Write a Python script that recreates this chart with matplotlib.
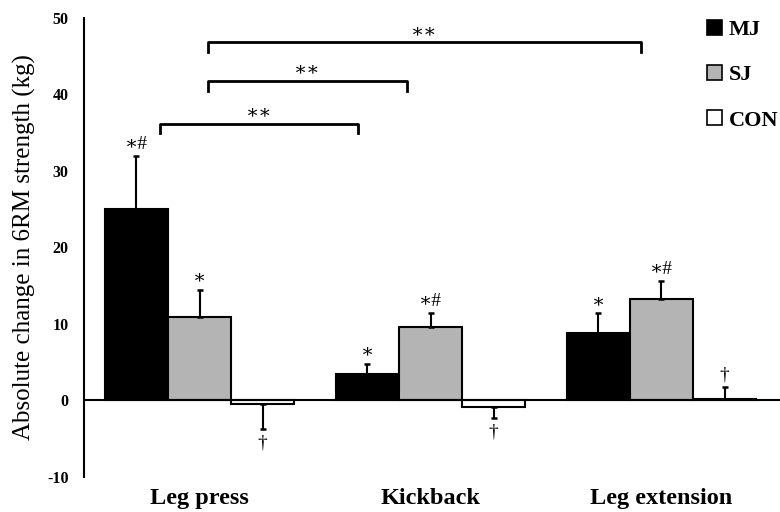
import matplotlib

matplotlib.use("Agg")
import matplotlib.pyplot as plt
import numpy as np
from matplotlib.patches import Patch

exercises = ["Leg press", "Kickback", "Leg extension"]
groups = ["MJ", "SJ", "CON"]

mj_change = [25.0, 3.5, 8.8]
sj_change = [10.9, 9.6, 13.2]
con_change = [-0.5, -0.9, 0.2]

mj_sd = [7.0, 1.3, 2.6]
sj_sd = [3.6, 1.8, 2.4]
con_sd = [3.2, 1.4, 1.6]

marks = [
    ["∗#", "∗", "∗"],      # MJ per exercise
    ["∗", "∗#", "∗#"],     # SJ
    ["†", "†", "†"],       # CON
]

# pairwise comparisons: (x_start, x_end) and bracket height
brackets_x = [(-0.171, 0.686), (0.037, 0.898), (0.037, 1.911)]
brackets_y = [36.2, 41.8, 46.8]
bracket_labels = ["∗∗", "∗∗", "∗∗"]

SERIF = ["Liberation Serif", "DejaVu Serif"]
plt.rcParams["font.family"] = SERIF
plt.rcParams["axes.unicode_minus"] = False

fig = plt.figure(figsize=(7.8, 5.12), dpi=100)
ax = fig.add_axes([0.1077, 0.0684, 0.8923, 0.8965])

x = np.arange(len(exercises))
width = 0.273
colors = ["black", "#b4b4b4", "white"]
series = [mj_change, sj_change, con_change]
errs = [mj_sd, sj_sd, con_sd]

for i, (vals, sds, col) in enumerate(zip(series, errs, colors)):
    pos = x + (i - 1) * width
    ax.bar(pos, vals, width, color=col, edgecolor="black", linewidth=1.5, zorder=2)
    lower = [sd if v < 0 else 0 for v, sd in zip(vals, sds)]
    upper = [0 if v < 0 else sd for v, sd in zip(vals, sds)]
    ax.errorbar(pos, vals, yerr=[lower, upper], fmt="none", ecolor="black",
                elinewidth=1.5, capsize=2.5, capthick=1.8, zorder=3)
    for p, v, sd, m in zip(pos, vals, sds, marks[i]):
        if v < 0:
            ax.text(p, v - sd - 1.8, m, ha="center", va="center", fontsize=14)
        else:
            ax.text(p, v + sd + 1.5, m, ha="center", va="center", fontsize=14)

for (x0, x1), yb, lab in zip(brackets_x, brackets_y, bracket_labels):
    ax.plot([x0, x0, x1, x1], [yb - 1.3, yb, yb, yb - 1.3], color="black", lw=2)
    ax.text((x0 + x1) / 2, yb + 1.4, lab, ha="center", va="center", fontsize=14)

ax.axhline(0, color="black", lw=1.5, zorder=4)
ax.set_xlim(-0.5, 2.513)
ax.set_ylim(-10, 50)
ax.set_yticks(range(-10, 51, 10))
ax.set_xticks(x)
ax.set_xticklabels(exercises, fontsize=17.5, fontweight="bold")
ax.tick_params(axis="both", length=0)
ax.tick_params(axis="x", pad=8)
ax.tick_params(axis="y", pad=11)
for lbl in ax.get_yticklabels():
    lbl.set_fontweight("bold")
    lbl.set_fontsize(11.5)
ax.set_ylabel("Absolute change in 6RM strength (kg)", fontsize=18, labelpad=8)
for s in ["top", "right", "bottom"]:
    ax.spines[s].set_visible(False)
ax.spines["left"].set_linewidth(1.5)

handles = [Patch(facecolor=c, edgecolor="black", linewidth=1.2) for c in colors]
leg = ax.legend(handles, groups, loc="upper left", bbox_to_anchor=(0.866, 1.04),
                frameon=False, handlelength=0.68, handleheight=0.68,
                handletextpad=0.3, labelspacing=1.12,
                prop={"family": SERIF, "weight": "bold", "size": 16})

fig.savefig("out.png", dpi=100)
